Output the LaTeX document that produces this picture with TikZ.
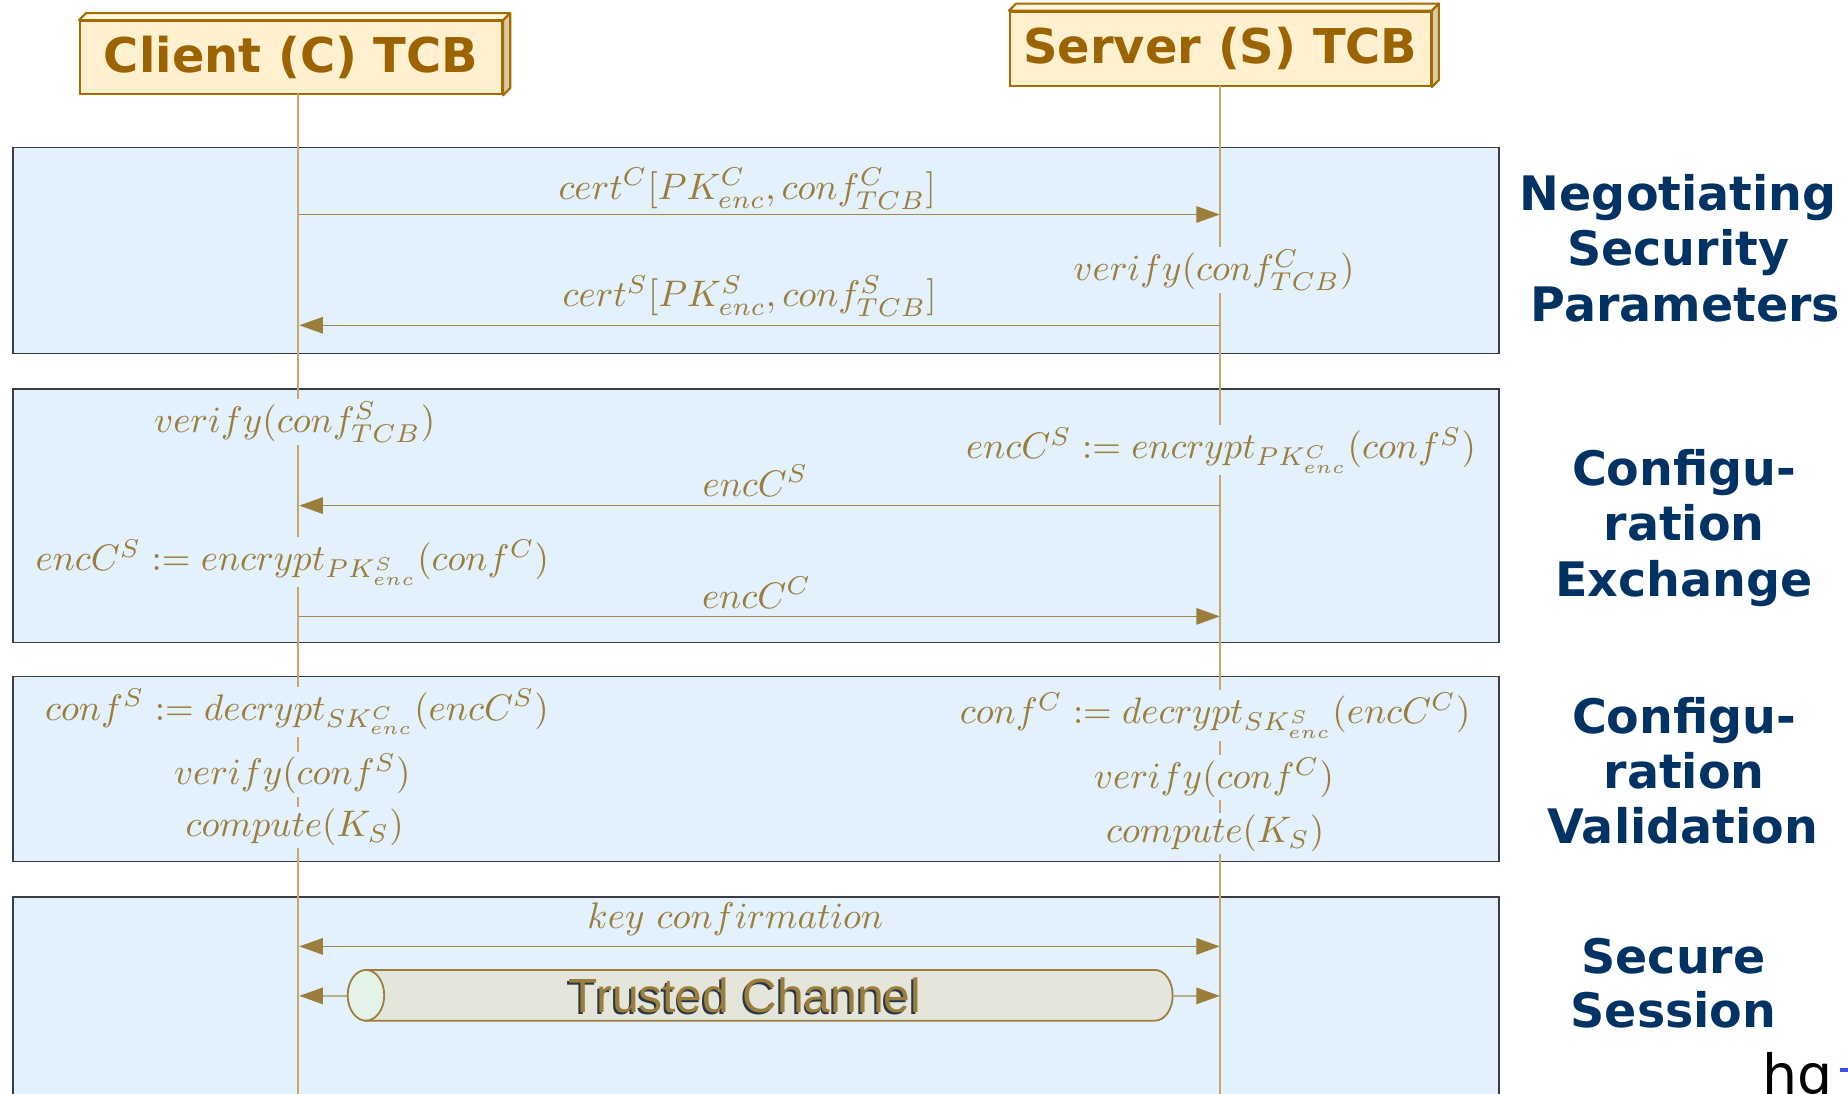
\documentclass[tikz,border=0pt]{standalone}
\usepackage{graphicx}
\usepackage{fontspec}
\usetikzlibrary{arrows.meta}
\newfontfamily\headfont{DejaVu Sans}
\newfontfamily\chanfont{Liberation Sans}
% math labels, set a little narrower than 10pt
\newcommand\mlbl[1]{\scalebox{0.94}{$#1$}}

\definecolor{panelfill}{RGB}{227,241,253}
\definecolor{panelline}{RGB}{60,62,70}
\definecolor{lifecol}{RGB}{200,166,112}
\definecolor{msgline}{RGB}{160,136,80}
\definecolor{tipcol}{RGB}{155,125,60}
\definecolor{mathcol}{RGB}{155,125,60}
\definecolor{tcbfill}{RGB}{255,240,208}
\definecolor{tcbtop}{RGB}{255,248,222}
\definecolor{tcbside}{RGB}{218,202,165}
\definecolor{tcbline}{RGB}{165,106,0}
\definecolor{tcbtext}{RGB}{156,100,0}
\definecolor{phasecol}{RGB}{0,50,100}
\definecolor{chanbody}{RGB}{228,230,220}
\definecolor{chanend}{RGB}{228,243,232}
\definecolor{chanline}{RGB}{155,125,60}
\definecolor{chanarrow}{RGB}{185,175,140}
\definecolor{shadowcol}{RGB}{40,55,70}
\definecolor{markblue}{RGB}{60,80,230}

\begin{document}
% one drawing unit is 0.3pt
\begin{tikzpicture}[x=0.3pt,y=-0.3pt,
  panel/.style={draw=panelline, fill=panelfill, line width=0.36pt},
  lifeline/.style={draw=lifecol, line width=0.36pt},
  tcb/.style={draw=tcbline, fill=tcbfill, line width=0.54pt, inner sep=0pt,
    text=tcbtext, font=\headfont\bfseries\fontsize{12.2}{14.4}\selectfont},
  face/.style={draw=tcbline, line width=0.54pt, line join=round},
  msg/.style={draw=msgline, line width=0.39pt, -{Triangle[length=6pt,width=4.2pt,color=tipcol]}},
  dmsg/.style={draw=msgline, line width=0.39pt,
    {Triangle[length=6pt,width=4.2pt,color=tipcol]}-{Triangle[length=6pt,width=4.2pt,color=tipcol]}},
  chmsg/.style={draw=chanarrow, line width=0.39pt, -{Triangle[length=6pt,width=4.2pt,color=tipcol]}},
  mathlbl/.style={text=mathcol, font=\fontsize{10}{12}\selectfont, inner sep=0.6pt, anchor=base},
  onlife/.style={mathlbl, fill=panelfill},
  phase/.style={text=phasecol, font=\headfont\bfseries\fontsize{12.1}{14.1}\selectfont,
    anchor=base, inner sep=0pt},
  chantext/.style={font=\chanfont\fontsize{12.2}{14.4}\selectfont, anchor=base, inner sep=0pt}
]
\useasboundingbox (0,0) rectangle (1568,928);
\clip (0,0) rectangle (1568,928);

% phase panels
\path[panel] (11,125) rectangle (1272,300);
\path[panel] (11,330) rectangle (1272,545);
\path[panel] (11,574) rectangle (1272,731);
\path[panel] (11,761) rectangle (1272,940);

% participants
\node[tcb, minimum width=107.4pt, minimum height=18.6pt] (client) at (247,49) {Client (C) TCB};
\node[tcb, minimum width=107.1pt, minimum height=18.9pt] (server) at (1035.5,41.5) {Server (S) TCB};
\foreach \b in {client,server}{
  \filldraw[face, fill=tcbtop] (\b.north west) -- ++(6,-6) -- ([shift={(6,-6)}]\b.north east) -- (\b.north east) -- cycle;
  \filldraw[face, fill=tcbside] (\b.north east) -- ++(6,-6) -- ([shift={(6,-6)}]\b.south east) -- (\b.south east) -- cycle;
}

% lifelines
\coordinate (cTop) at (253,80);
\coordinate (cBot) at (253,940);
\coordinate (sTop) at (1035,73);
\coordinate (sBot) at (1035,940);
\draw[lifeline] (cTop) -- (cBot);
\draw[lifeline] (sTop) -- (sBot);

% message end points on the lifelines
\coordinate (c1) at (254,182);  \coordinate (s1) at (1035,182);
\coordinate (c2) at (254,276);  \coordinate (s2) at (1035,276);
\coordinate (c3) at (254,429);  \coordinate (s3) at (1035,429);
\coordinate (c4) at (254,523);  \coordinate (s4) at (1035,523);
\coordinate (c5) at (254,803);  \coordinate (s5) at (1035,803);
\coordinate (c6) at (254,845);  \coordinate (s6) at (1035,845);

% negotiating security parameters
\node[mathlbl] (certC) at (634,169) {\mlbl{cert^C[PK^C_{enc}, conf^C_{TCB}]}};
\draw[msg] (c1) -- (s1);
\node[onlife] (verCtcb) at (1030,238) {\mlbl{verify(conf^C_{TCB})}};
\node[mathlbl] (certS) at (636,260) {\mlbl{cert^S[PK^S_{enc}, conf^S_{TCB}]}};
\draw[msg] (s2) -- (c2);

% configuration exchange
\node[onlife] (verStcb) at (250,367) {\mlbl{verify(conf^S_{TCB})}};
\node[onlife] (encR) at (1036,389) {\mlbl{encC^S := encrypt_{PK^C_{enc}}(conf^S)}};
\node[mathlbl] (encCS) at (641,421) {\mlbl{encC^S}};
\draw[msg] (s3) -- (c3);
\node[onlife] (encL) at (248,484) {\mlbl{encC^S := encrypt_{PK^S_{enc}}(conf^C)}};
\node[mathlbl] (encCC) at (642,516) {\mlbl{encC^C}};
\draw[msg] (c4) -- (s4);

% configuration validation
\node[onlife] (decL) at (252,611) {\mlbl{conf^S := decrypt_{SK^C_{enc}}(encC^S)}};
\node[onlife] (decR) at (1031,614) {\mlbl{conf^C := decrypt_{SK^S_{enc}}(encC^C)}};
\node[onlife] (verS) at (248,666) {\mlbl{verify(conf^S)}};
\node[onlife] (verC) at (1030,669) {\mlbl{verify(conf^C)}};
\node[onlife] (compL) at (250,710) {\mlbl{compute(K_S)}};
\node[onlife] (compR) at (1031,715) {\mlbl{compute(K_S)}};

% secure session
\node[mathlbl] (keyconf) at (624,788) {\mlbl{key\ confirmation}};
\draw[dmsg] (c5) -- (s5);

% trusted channel pipe
\filldraw[draw=chanline, fill=chanbody, line width=0.45pt]
  (310,823) -- (980,823) arc[start angle=90, end angle=-90, x radius=4.5pt, y radius=6.45pt]
  -- (310,866) -- cycle;
\coordinate (tcL) at (314,845);
\coordinate (tcR) at (995,845);
\draw[chmsg] (tcL) -- (c6);
\draw[chmsg] (tcR) -- (s6);
\filldraw[draw=chanline, fill=chanend, line width=0.45pt] (310.5,844.5) ellipse [x radius=4.65pt, y radius=6.45pt];
\node[chantext, text=shadowcol] (chanshadow) at (630.5,861) {Trusted Channel};
\node[chantext, text=mathcol] (chan) at (632,859.5) {Trusted Channel};

% phase titles
\node[phase] (n1) at (1424,179) {Negotiating};
\node[phase] (n2) at (1424,225) {Security};
\node[phase] (n3) at (1430,273) {Parameters};
\node[phase] (e1) at (1429,412) {Configu-};
\node[phase] (e2) at (1429,459) {ration};
\node[phase] (e3) at (1429,506) {Exchange};
\node[phase] (v1) at (1429,622) {Configu-};
\node[phase] (v2) at (1429,669) {ration};
\node[phase] (v3) at (1428,716) {Validation};
\node[phase] (s1t) at (1420,826) {Secure};
\node[phase] (s2t) at (1420,872) {Session};

% corner mark
\node[font=\headfont\fontsize{14.1}{15}\selectfont, anchor=base west, inner sep=0pt] (mark) at (1495,929) {hg};
\fill[markblue] (1561,906) rectangle (1568,910);
\end{tikzpicture}
\end{document}
